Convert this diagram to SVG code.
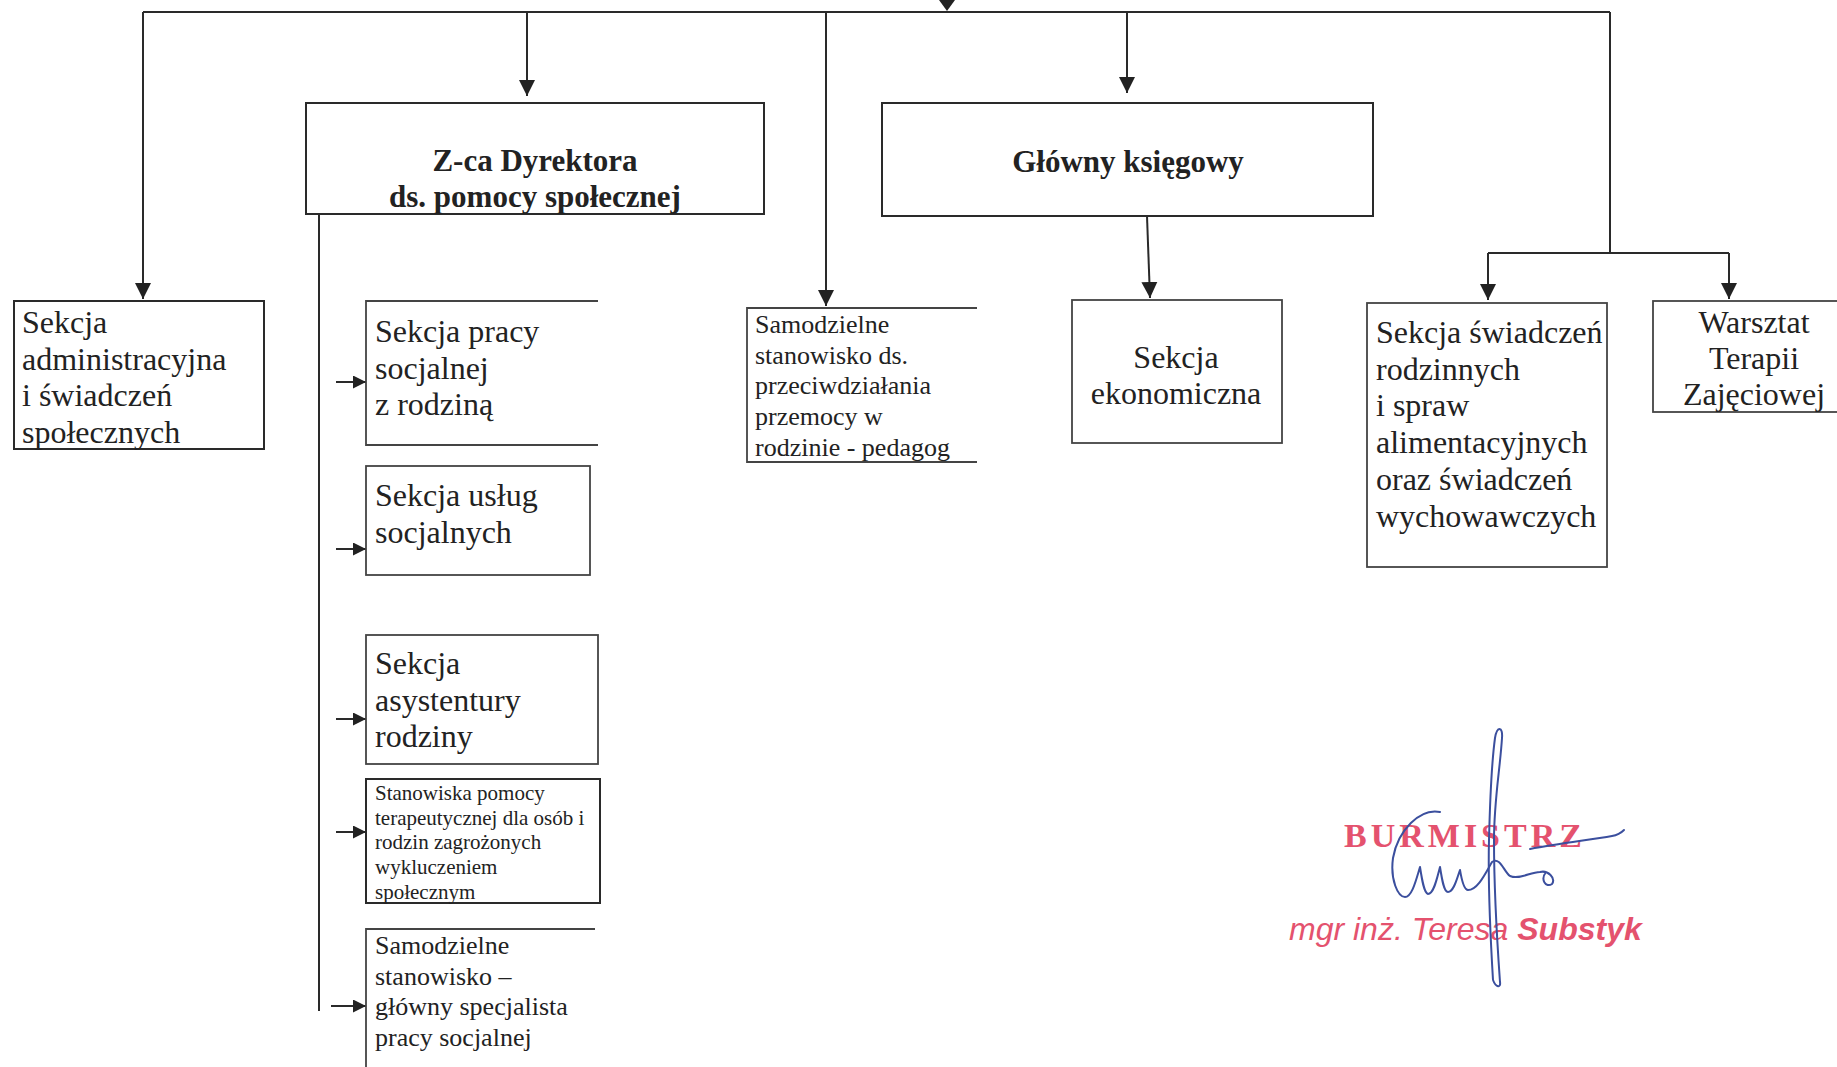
<svg xmlns="http://www.w3.org/2000/svg" width="1837" height="1067" viewBox="0 0 1837 1067">
<style>
.bx{fill:none;stroke:#2a2a2a;stroke-width:2}
.sb{fill:none;stroke:#444;stroke-width:1.8}
.ln{fill:none;stroke:#2a2a2a;stroke-width:2}
.t{font-family:"Liberation Serif","Times New Roman",serif;font-size:32px;fill:#222}
.tb{font-family:"Liberation Serif","Times New Roman",serif;font-size:31px;font-weight:bold;fill:#222;text-anchor:middle}
.t26{font-family:"Liberation Serif","Times New Roman",serif;font-size:26px;fill:#222}
.t21{font-family:"Liberation Serif","Times New Roman",serif;font-size:21px;fill:#222}
.c{text-anchor:middle}
.stamp{font-family:"Liberation Serif","Times New Roman",serif;font-size:34px;font-weight:bold;fill:#e4526e;letter-spacing:4px}
.stamp2{font-family:"Liberation Sans",Arial,sans-serif;font-size:32px;font-style:italic;fill:#e4526e}
.sig{fill:none;stroke:#3b4f9e;stroke-width:2;stroke-linecap:round;stroke-linejoin:round}
</style>
<defs>
<marker id="ah" viewBox="0 0 10 10" refX="10" refY="5" markerWidth="16" markerHeight="17" markerUnits="userSpaceOnUse" orient="auto">
<path d="M0,0 L10,5 L0,10 z" fill="#222"/>
</marker>
<marker id="ahs" viewBox="0 0 10 10" refX="10" refY="5" markerWidth="13" markerHeight="13" markerUnits="userSpaceOnUse" orient="auto">
<path d="M0,0 L10,5 L0,10 z" fill="#222"/>
</marker>
</defs>
<rect width="1837" height="1067" fill="#fff"/>

<g id="connectors">
<path d="M939,0 L955,0 L947,11 z" fill="#222"/>
<path class="ln" d="M143,12 L1610,12"/>
<path class="ln" d="M143,12 L143,299" marker-end="url(#ah)"/>
<path class="ln" d="M527,12 L527,96" marker-end="url(#ah)"/>
<path class="ln" d="M826,12 L826,306" marker-end="url(#ah)"/>
<path class="ln" d="M1127,12 L1127,93" marker-end="url(#ah)"/>
<path class="ln" d="M1610,12 L1610,253"/>
<path class="ln" d="M1488,253 L1729,253"/>
<path class="ln" d="M1488,253 L1488,300" marker-end="url(#ah)"/>
<path class="ln" d="M1729,253 L1729,299" marker-end="url(#ah)"/>
<path class="ln" d="M1147,216 L1150,298" marker-end="url(#ah)"/>
<path class="ln" d="M319,214 L319,1011"/>
<path class="ln" d="M336,382 L366,382" marker-end="url(#ahs)"/>
<path class="ln" d="M336,549 L366,549" marker-end="url(#ahs)"/>
<path class="ln" d="M336,719 L366,719" marker-end="url(#ahs)"/>
<path class="ln" d="M336,832 L366,832" marker-end="url(#ahs)"/>
<path class="ln" d="M331,1006 L366,1006" marker-end="url(#ahs)"/>
</g>

<g id="node-zca">
<rect class="bx" x="306" y="103" width="458" height="111"/>
<text class="tb" x="535" y="171">Z-ca Dyrektora</text>
<text class="tb" x="535" y="207">ds. pomocy społecznej</text>
</g>

<g id="node-glowny">
<rect class="bx" x="882" y="103" width="491" height="113"/>
<text class="tb" x="1128" y="172">Główny księgowy</text>
</g>

<g id="node-admin">
<rect class="bx" x="14" y="301" width="250" height="148"/>
<text class="t" x="22" y="333">Sekcja</text>
<text class="t" x="22" y="370">administracyjna</text>
<text class="t" x="22" y="406">i świadczeń</text>
<text class="t" x="22" y="443">społecznych</text>
</g>

<g id="node-praca">
<path class="sb" d="M598,301 L366,301 L366,445 L598,445"/>
<text class="t" x="375" y="342">Sekcja pracy</text>
<text class="t" x="375" y="379">socjalnej</text>
<text class="t" x="375" y="415">z rodziną</text>
</g>

<g id="node-uslugi">
<rect class="sb" x="366" y="466" width="224" height="109"/>
<text class="t" x="375" y="506">Sekcja usług</text>
<text class="t" x="375" y="543">socjalnych</text>
</g>

<g id="node-asystentura">
<rect class="sb" x="366" y="635" width="232" height="129"/>
<text class="t" x="375" y="674">Sekcja</text>
<text class="t" x="375" y="711">asystentury</text>
<text class="t" x="375" y="747">rodziny</text>
</g>

<g id="node-terapia">
<rect class="bx" x="366" y="779" width="234" height="124"/>
<text class="t21" x="375" y="800">Stanowiska pomocy</text>
<text class="t21" x="375" y="825">terapeutycznej dla osób i</text>
<text class="t21" x="375" y="849">rodzin zagrożonych</text>
<text class="t21" x="375" y="874">wykluczeniem</text>
<text class="t21" x="375" y="899">społecznym</text>
</g>

<g id="node-specjalista">
<path class="sb" d="M595,929 L366,929 L366,1070"/>
<text class="t26" x="375" y="954">Samodzielne</text>
<text class="t26" x="375" y="985">stanowisko –</text>
<text class="t26" x="375" y="1015">główny specjalista</text>
<text class="t26" x="375" y="1046">pracy socjalnej</text>
</g>

<g id="node-przemoc">
<path class="sb" d="M977,308 L747,308 L747,462 L977,462"/>
<text class="t26" x="755" y="333">Samodzielne</text>
<text class="t26" x="755" y="364">stanowisko ds.</text>
<text class="t26" x="755" y="394">przeciwdziałania</text>
<text class="t26" x="755" y="425">przemocy w</text>
<text class="t26" x="755" y="456">rodzinie - pedagog</text>
</g>

<g id="node-ekonomiczna">
<rect class="sb" x="1072" y="300" width="210" height="143"/>
<text class="t c" x="1176" y="368">Sekcja</text>
<text class="t c" x="1176" y="404">ekonomiczna</text>
</g>

<g id="node-swiadczenia">
<rect class="sb" x="1367" y="303" width="240" height="264"/>
<text class="t" x="1376" y="343">Sekcja świadczeń</text>
<text class="t" x="1376" y="380">rodzinnych</text>
<text class="t" x="1376" y="416">i spraw</text>
<text class="t" x="1376" y="453">alimentacyjnych</text>
<text class="t" x="1376" y="490">oraz świadczeń</text>
<text class="t" x="1376" y="527">wychowawczych</text>
</g>

<g id="node-warsztat">
<rect class="sb" x="1653" y="301" width="210" height="111"/>
<text class="t c" x="1754" y="333">Warsztat</text>
<text class="t c" x="1754" y="369">Terapii</text>
<text class="t c" x="1754" y="405">Zajęciowej</text>
</g>

<g id="signature">
<text class="stamp" x="1344" y="847">BURMISTRZ</text>
<text class="stamp2" x="1289" y="940">mgr inż. Teresa <tspan font-weight="bold">Substyk</tspan></text>
<path class="sig" d="M1493,980 C1490,930 1488,880 1489,840 C1490,800 1492,760 1495,738 C1497,726 1503,726 1502,738 C1500,770 1494,800 1494,840 C1494,890 1497,940 1500,982 C1501,988 1496,988 1493,980"/>
<path class="sig" d="M1440,812 C1420,808 1398,830 1393,858 C1390,880 1398,897 1405,897 C1412,897 1416,880 1420,867 C1422,880 1424,893 1428,894 C1434,894 1437,878 1440,867 C1442,880 1444,892 1448,892 C1454,892 1457,878 1460,870 C1462,882 1465,890 1468,890 C1478,890 1486,872 1492,862 C1500,856 1504,872 1510,876 C1520,880 1530,872 1540,872 C1548,870 1556,878 1552,884 C1546,888 1540,880 1546,872"/>
<path class="sig" d="M1530,849 C1560,843 1590,840 1612,836 C1618,835 1622,832 1624,830"/>
</g>
</svg>
